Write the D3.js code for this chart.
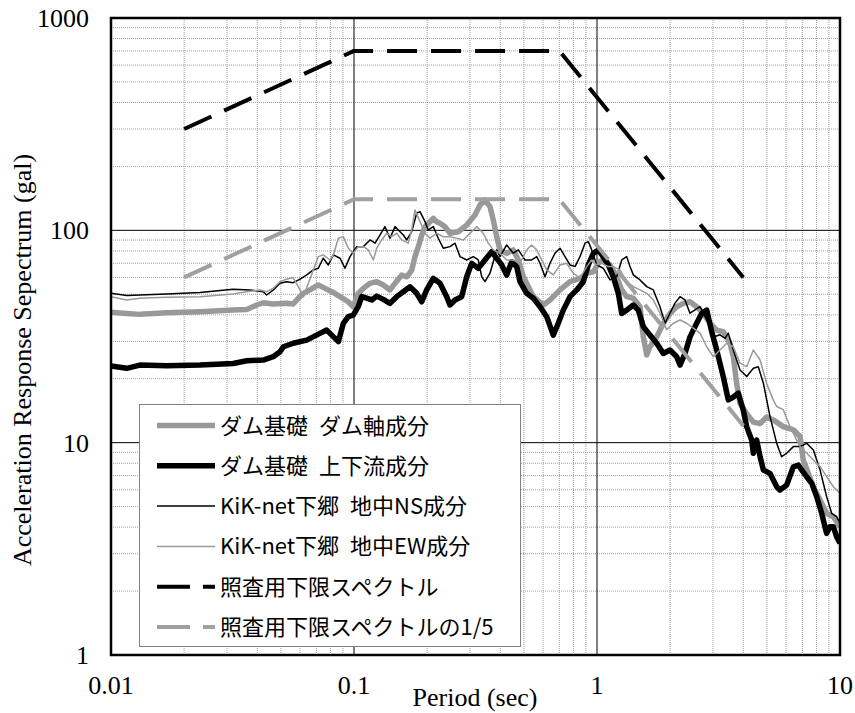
<!DOCTYPE html>
<html>
<head>
<meta charset="utf-8">
<script src="https://cdn.jsdelivr.net/npm/d3@7"></script>
<style>
  body { margin: 0; background: #fff; }
  svg { display: block; }
  .serif { font-family: "Liberation Serif", "Times New Roman", Times, serif; font-size: 26px; }
  .legendText { font-family: "Noto Sans CJK JP", sans-serif; font-size: 22px; }
</style>
</head>
<body>
<svg id="chart" width="855" height="713"></svg>
<script>
// period (sec) / acceleration (gal) pairs
var damAxis = [[0.01,41.1],[0.0116,40.6],[0.01315,40.2],[0.01695,40.9],[0.02323,41.4],[0.0318,42.1],[0.0362,42.4],[0.0398,44.5],[0.0423,45.6],[0.0465,45.0],[0.0528,45.3],[0.0562,45.0],[0.059,47.9],[0.0619,50.5],[0.0659,52.4],[0.0713,55.3],[0.076,53.3],[0.081,51.4],[0.0876,48.7],[0.0947,46.1],[0.0993,43.7],[0.1041,50.5],[0.1092,53.3],[0.1164,56.3],[0.124,57.3],[0.132,55.3],[0.1406,52.4],[0.1475,56.3],[0.1572,61.6],[0.1648,60.4],[0.1728,65.0],[0.1782,75.1],[0.184,83.7],[0.19,95.0],[0.196,104],[0.2055,109.8],[0.212,113.9],[0.2189,109.8],[0.2259,107.9],[0.2369,104],[0.2483,96.8],[0.2687,98.5],[0.2909,105.9],[0.3147,118],[0.33,131.6],[0.3459,138.9],[0.3628,129.2],[0.3743,111.8],[0.3866,93.3],[0.399,80.8],[0.4249,77.9],[0.4524,80.8],[0.4747,72.5],[0.4976,60.4],[0.547,48.7],[0.6012,44.5],[0.6406,47.0],[0.7043,52.4],[0.7743,57.3],[0.8511,59.4],[0.9071,62.7],[0.966,63.8],[1.012,69.9],[1.061,73.8],[1.131,68.7],[1.205,60.4],[1.264,52.4],[1.325,48.7],[1.411,47.9],[1.503,43.7],[1.551,31.5],[1.602,25.9],[1.652,28.3],[1.761,31.5],[1.875,36.5],[1.997,40.6],[2.128,43.7],[2.265,45.3],[2.414,46.1],[2.571,43.7],[2.738,40.6],[2.917,36.5],[3.109,33.9],[3.31,33.3],[3.526,29.4],[3.639,25.4],[3.756,19.0],[3.878,15.3],[4.13,13.7],[4.40,12.5],[4.69,12.3],[4.99,13.2],[5.31,12.8],[5.84,11.9],[6.43,11.5],[6.85,10.7],[7.06,8.28],[7.77,6.2],[8.28,5.37],[8.81,4.64],[9.39,4.48],[10,4.02]];

var damUpDown = [[0.01,23.0],[0.0116,22.4],[0.01315,23.2],[0.01695,23.0],[0.02323,23.2],[0.0318,23.6],[0.0362,24.3],[0.0423,24.5],[0.0465,25.4],[0.0496,26.8],[0.0512,28.3],[0.0562,29.4],[0.0639,30.4],[0.0724,32.7],[0.0772,33.9],[0.081,32.1],[0.0862,29.9],[0.0904,36.5],[0.0947,39.2],[0.0993,39.9],[0.1041,43.7],[0.1076,48.7],[0.1128,47.9],[0.1183,47.0],[0.124,49.0],[0.132,47.3],[0.1406,45.3],[0.1499,48.7],[0.1595,51.4],[0.17,54.2],[0.1811,50.5],[0.19,46.1],[0.1991,52.4],[0.212,59.4],[0.2259,56.3],[0.2407,48.7],[0.2483,44.5],[0.2604,47.0],[0.2774,48.7],[0.2909,60.4],[0.305,69.9],[0.3247,66.2],[0.3459,72.5],[0.3688,79.3],[0.3866,73.8],[0.4054,68.7],[0.4249,61.6],[0.4456,71.1],[0.4673,67.4],[0.4821,57.3],[0.5136,50.5],[0.547,47.9],[0.5829,43.7],[0.6209,39.2],[0.6607,32.1],[0.6928,36.5],[0.7265,42.1],[0.7743,48.7],[0.8253,52.4],[0.878,57.3],[0.921,68.7],[0.966,77.9],[1.012,80.8],[1.061,75.1],[1.113,68.7],[1.167,60.4],[1.224,50.5],[1.264,40.6],[1.325,42.1],[1.411,44.5],[1.479,42.1],[1.551,35.2],[1.652,32.1],[1.761,29.4],[1.875,26.3],[1.997,27.3],[2.128,25.4],[2.196,23.2],[2.302,26.3],[2.414,31.5],[2.571,36.5],[2.697,40.6],[2.828,42.1],[2.965,33.3],[3.109,27.3],[3.31,20.4],[3.47,15.9],[3.639,16.4],[3.815,17.1],[4.0,14.2],[4.13,11.9],[4.33,10.3],[4.40,8.91],[4.54,10.3],[4.69,8.58],[4.84,7.43],[5.15,7.17],[5.49,6.2],[5.66,5.98],[6.03,6.31],[6.43,7.7],[6.74,7.84],[6.96,7.43],[7.29,6.91],[7.65,6.43],[8.02,5.56],[8.41,4.64],[8.81,3.74],[9.10,4.02],[9.39,4.02],[9.69,3.6],[10,3.36]];

var kikNS = [[0.01,50.5],[0.0116,49.3],[0.01315,49.6],[0.01695,50.2],[0.02323,50.9],[0.0318,52.8],[0.0373,52.4],[0.0423,51.4],[0.0437,49.6],[0.0466,52.4],[0.0496,56.3],[0.0528,57.3],[0.0562,56.7],[0.06,58.9],[0.0639,61.7],[0.068,65.1],[0.0713,66.3],[0.0747,73.9],[0.0784,68.7],[0.0822,76.6],[0.0876,73.9],[0.0918,66.3],[0.0963,75.2],[0.1026,83.8],[0.1092,83.8],[0.1164,90.1],[0.1221,87.0],[0.128,95.1],[0.1341,104.1],[0.1406,91.8],[0.1475,104.1],[0.1522,100.4],[0.1595,95.1],[0.1648,90.1],[0.1728,98.6],[0.1811,120.4],[0.1869,122.5],[0.196,109.9],[0.2021,100.4],[0.212,104.1],[0.2222,91.8],[0.233,82.4],[0.2483,83.8],[0.2604,87.0],[0.2731,75.2],[0.2909,72.5],[0.3097,75.2],[0.3247,72.5],[0.3353,60.5],[0.3459,57.3],[0.3628,62.8],[0.3866,80.9],[0.399,75.2],[0.4249,85.3],[0.4524,78.0],[0.4747,80.9],[0.5055,72.5],[0.5385,72.5],[0.5648,75.2],[0.5829,70.0],[0.6109,60.5],[0.6406,70.0],[0.6716,78.0],[0.7043,82.4],[0.7384,75.2],[0.7743,68.7],[0.8121,67.5],[0.8511,75.2],[0.8926,87.0],[0.921,88.5],[0.951,80.9],[0.997,68.7],[1.061,66.3],[1.131,58.4],[1.205,60.5],[1.264,72.5],[1.325,75.2],[1.367,67.5],[1.411,61.7],[1.503,58.4],[1.602,54.3],[1.705,52.4],[1.816,43.7],[1.905,36.5],[1.997,40.7],[2.094,45.4],[2.196,48.7],[2.302,47.0],[2.414,40.7],[2.531,42.2],[2.654,43.7],[2.783,39.2],[2.917,35.2],[3.059,31.6],[3.208,32.2],[3.363,31.0],[3.47,32.8],[3.639,27.3],[3.878,22.0],[4.13,20.5],[4.40,22.4],[4.61,22.8],[4.84,19.0],[5.15,13.3],[5.49,9.93],[5.75,8.59],[6.03,8.91],[6.43,9.58],[6.85,9.58],[7.29,9.93],[7.77,9.24],[8.28,7.43],[8.81,5.57],[9.24,4.65],[9.69,4.48],[10,4.17]];

var kikEW = [[0.01,48.7],[0.0116,47.0],[0.01315,47.9],[0.01695,48.4],[0.02323,48.7],[0.0318,50.2],[0.0362,51.4],[0.041,52.4],[0.0437,51.4],[0.0466,53.4],[0.0496,57.3],[0.0528,58.9],[0.0562,59.9],[0.06,52.4],[0.0619,48.7],[0.0649,56.3],[0.068,65.1],[0.0713,75.2],[0.0747,76.6],[0.0797,72.5],[0.0822,76.6],[0.0862,91.8],[0.0904,93.4],[0.0947,82.4],[0.0993,78.0],[0.1041,83.8],[0.1092,83.8],[0.1145,80.9],[0.1201,72.5],[0.124,82.4],[0.13,90.1],[0.1363,96.9],[0.1429,93.4],[0.1499,96.9],[0.1572,90.1],[0.1673,87.0],[0.1728,100.4],[0.1782,124.8],[0.1869,109.9],[0.196,96.9],[0.2055,91.8],[0.2189,96.9],[0.233,93.4],[0.2483,93.4],[0.2818,90.1],[0.3198,104.1],[0.3404,96.9],[0.3569,87.0],[0.3743,80.9],[0.399,78.0],[0.4249,72.5],[0.4524,72.5],[0.4821,70.0],[0.5136,80.9],[0.5385,85.3],[0.5648,80.9],[0.5829,75.2],[0.6209,65.1],[0.6607,61.7],[0.7043,68.7],[0.7503,70.0],[0.799,62.8],[0.8511,59.5],[0.9071,67.5],[0.951,72.5],[0.997,68.7],[1.045,70.0],[1.113,67.5],[1.167,67.5],[1.243,65.1],[1.325,57.3],[1.411,54.3],[1.503,52.4],[1.602,50.5],[1.705,47.0],[1.816,40.7],[1.935,34.0],[2.061,36.5],[2.196,37.8],[2.34,36.5],[2.49,34.6],[2.654,32.8],[2.828,28.3],[3.01,25.4],[3.208,27.3],[3.418,29.4],[3.639,28.3],[3.878,23.7],[4.13,22.8],[4.40,27.3],[4.69,24.5],[4.99,19.0],[5.31,15.9],[5.49,14.8],[5.84,14.3],[6.23,11.9],[6.63,10.3],[6.85,9.58],[7.29,8.91],[7.77,8.29],[8.28,7.71],[8.81,6.92],[9.39,6.2],[10,5.78]];

var lowerLimit = [[0.02,300],[0.1,700],[0.7,700],[4,60]];
var lowerLimitFifth = [[0.02,60],[0.1,140],[0.7,140],[4,12]];

var xTickValues = [0.01, 0.1, 1, 10];
var yTickValues = [1, 10, 100, 1000];

var seriesNames = ["ダム基礎\u2002ダム軸成分", "ダム基礎\u2002上下流成分", "KiK-net下郷\u2002地中NS成分",
  "KiK-net下郷\u2002地中EW成分", "照査用下限スペクトル", "照査用下限スペクトルの1/5"];

var plot = {left: 111, right: 840, top: 18, bottom: 655};

var svg = d3.select("#chart");

var x = d3.scaleLog().domain([0.01, 10]).range([plot.left, plot.right]);
var y = d3.scaleLog().domain([1, 1000]).range([plot.bottom, plot.top]);

// minor grid (dotted) then decade lines
var isDecade = function(v) { return Math.abs(Math.log10(v) - Math.round(Math.log10(v))) < 1e-9; };
var grid = svg.append("g");
grid.selectAll(".vminor").data(x.ticks().filter(function(d){ return !isDecade(d); }))
  .enter().append("line")
  .attr("x1", x).attr("x2", x).attr("y1", plot.top).attr("y2", plot.bottom)
  .attr("stroke", "#a0a0a0").attr("stroke-width", 1).attr("stroke-dasharray", "1,1");
grid.selectAll(".hminor").data(y.ticks().filter(function(d){ return !isDecade(d); }))
  .enter().append("line")
  .attr("y1", y).attr("y2", y).attr("x1", plot.left).attr("x2", plot.right)
  .attr("stroke", "#a0a0a0").attr("stroke-width", 1).attr("stroke-dasharray", "1,1");
grid.selectAll(".vmajor").data(xTickValues)
  .enter().append("line")
  .attr("x1", x).attr("x2", x).attr("y1", plot.top).attr("y2", plot.bottom)
  .attr("stroke", "#000").attr("stroke-width", 1);
grid.selectAll(".hmajor").data(yTickValues)
  .enter().append("line")
  .attr("y1", y).attr("y2", y).attr("x1", plot.left).attr("x2", plot.right)
  .attr("stroke", "#000").attr("stroke-width", 1);

svg.append("clipPath").attr("id", "clip").append("rect")
  .attr("x", plot.left).attr("y", plot.top)
  .attr("width", plot.right - plot.left).attr("height", plot.bottom - plot.top);

var line = d3.line()
  .x(function(d){ return x(d[0]); })
  .y(function(d){ return y(d[1]); });

var styles = [
  {data: damAxis, color: "#999999", width: 5.5, dash: null},
  {data: damUpDown, color: "#000000", width: 5.5, dash: null},
  {data: kikNS, color: "#000000", width: 1.5, dash: null},
  {data: kikEW, color: "#999999", width: 1.5, dash: null},
  {data: lowerLimit, color: "#000000", width: 4, dash: "30,14"},
  {data: lowerLimitFifth, color: "#a0a0a0", width: 4, dash: "30,14"}
];

var lines = svg.append("g").attr("clip-path", "url(#clip)");
styles.forEach(function(s) {
  lines.append("path")
    .datum(s.data)
    .attr("d", line)
    .attr("fill", "none")
    .attr("stroke", s.color)
    .attr("stroke-width", s.width)
    .attr("stroke-linejoin", "round")
    .attr("stroke-dasharray", s.dash);
});

// plot border
svg.append("rect")
  .attr("x", plot.left).attr("y", plot.top)
  .attr("width", plot.right - plot.left).attr("height", plot.bottom - plot.top)
  .attr("fill", "none").attr("stroke", "#000").attr("stroke-width", 2.5);

// tick labels
svg.selectAll(".ylab").data(yTickValues).enter().append("text")
  .attr("class", "serif")
  .attr("x", 89).attr("y", function(d){ return y(d) + 9; })
  .attr("text-anchor", "end")
  .text(function(d){ return d; });
svg.selectAll(".xlab").data(xTickValues).enter().append("text")
  .attr("class", "serif")
  .attr("x", x).attr("y", 694)
  .attr("text-anchor", "middle")
  .text(function(d){ return d; });

svg.append("text")
  .attr("class", "serif")
  .attr("x", 475).attr("y", 706)
  .attr("text-anchor", "middle")
  .text("Period (sec)");
svg.append("text")
  .attr("class", "serif")
  .attr("transform", "translate(31,360) rotate(-90)")
  .attr("text-anchor", "middle")
  .text("Acceleration Response Sepectrum (gal)");

// legend
var legend = svg.append("g");
legend.append("rect")
  .attr("x", 139.5).attr("y", 404.5).attr("width", 381).attr("height", 242)
  .attr("fill", "#fff").attr("stroke", "#808080").attr("stroke-width", 1);
styles.forEach(function(s, i) {
  var ly = 425.5 + i * 40.3;
  legend.append("line")
    .attr("x1", 157).attr("x2", 215).attr("y1", ly).attr("y2", ly)
    .attr("stroke", s.color).attr("stroke-width", s.width)
    .attr("stroke-dasharray", s.dash ? "33,13" : null);
  legend.append("text")
    .attr("class", "legendText")
    .attr("x", 220).attr("y", ly + 8)
    .text(seriesNames[i]);
});
</script>
</body>
</html>
